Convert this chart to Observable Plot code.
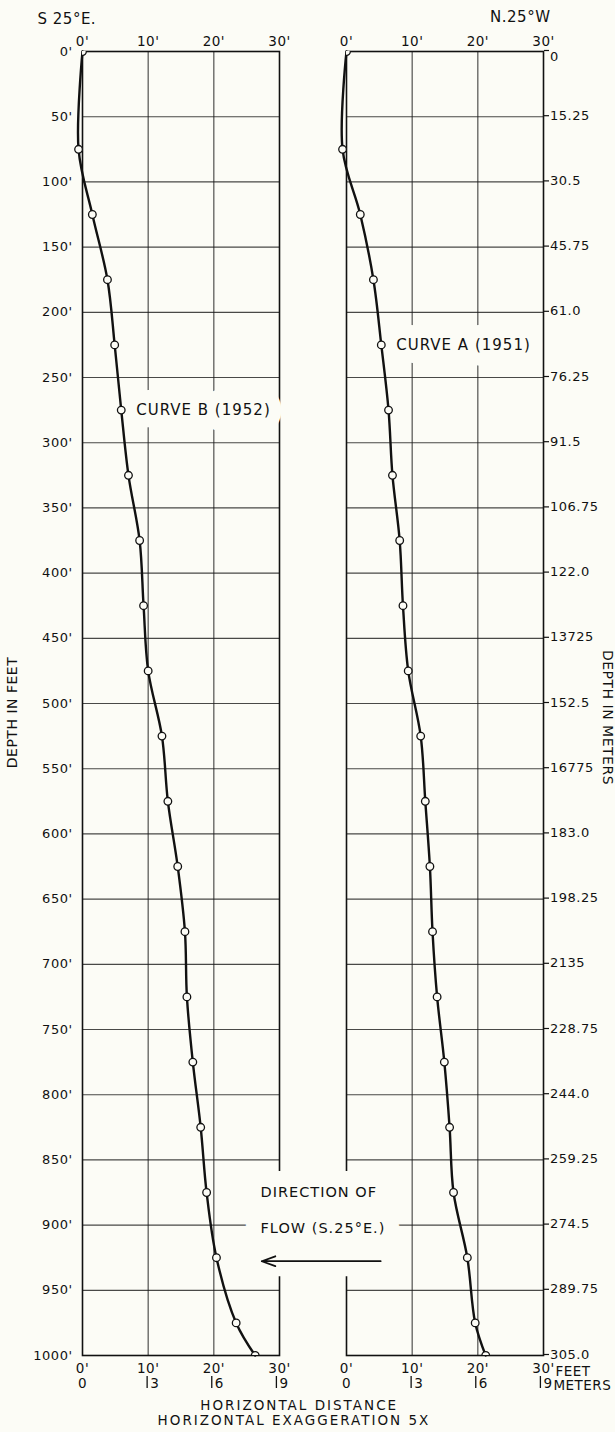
<!DOCTYPE html>
<html>
<head>
<meta charset="utf-8">
<script src="https://cdn.jsdelivr.net/npm/d3@7"></script>
<script src="https://cdn.jsdelivr.net/npm/@observablehq/plot@0.6"></script>
<style>
  html, body { margin: 0; padding: 0; background: #fcfcf6; }
  #chart svg text { letter-spacing: 0.5px; }
</style>
</head>
<body>
<div id="chart"></div>
<script>
// ---------- data ----------
const panels = ["S 25°E.", "N.25°W"];            // left panel (curve B), right panel (curve A)
const depthsFt = [0, 75, 125, 175, 225, 275, 325, 375, 425, 475, 525, 575, 625, 675, 725, 775, 825, 875, 925, 975, 1000];
const curveB1952 = [0, -0.6, 1.5, 3.8, 4.9, 5.9, 7.0, 8.7, 9.3, 10.0, 12.1, 13.0, 14.5, 15.6, 15.9, 16.8, 18.0, 18.9, 20.4, 23.4, 26.3];
const curveA1951 = [0, -0.6, 2.1, 4.1, 5.3, 6.4, 7.0, 8.1, 8.6, 9.4, 11.3, 12.0, 12.7, 13.1, 13.8, 14.9, 15.7, 16.3, 18.4, 19.6, 21.2];

const depthTicksFt = [0, 50, 100, 150, 200, 250, 300, 350, 400, 450, 500, 550, 600, 650, 700, 750, 800, 850, 900, 950, 1000];
const feetTickLabels = ["0'", "50'", "100'", "150'", "200'", "250'", "300'", "350'", "400'", "450'", "500'", "550'", "600'", "650'", "700'", "750'", "800'", "850'", "900'", "950'", "1000'"];
const meterTickLabels = ["0", "15.25", "30.5", "45.75", "61.0", "76.25", "91.5", "106.75", "122.0", "13725", "152.5", "16775", "183.0", "198.25", "2135", "228.75", "244.0", "259.25", "274.5", "289.75", "305.0"];

const horizTicksFt = [0, 10, 20, 30];
const horizTickLabels = ["0'", "10'", "20'", "30'"];
const horizTicksM = [0, 3, 6, 9];
const horizTickLabelsM = ["0", "3", "6", "9"];
const FT_PER_M = 1 / 0.3048;
const horizTicksMft = horizTicksM.map(m => m * FT_PER_M);

const curveNames = ["CURVE B (1952)", "CURVE A (1951)"];
const curveLabelDepths = [275, 225];
const flowText = ["DIRECTION OF", "FLOW (S.25°E.)"];
const flowTextDepths = [875, 902.6];
const flowArrow = {from: 5.2, to: -12.9, depth: 927.7};   // in right-panel feet
const flowTextX = -13.1;
const bottomTitles = ["HORIZONTAL DISTANCE", "HORIZONTAL EXAGGERATION 5X"];

// ---------- tables built from the arrays ----------
const rows = [
  ...depthsFt.map((d, i) => ({panel: panels[0], depth: d, offset: curveB1952[i]})),
  ...depthsFt.map((d, i) => ({panel: panels[1], depth: d, offset: curveA1951[i]}))
];
const isEnd = d => d.depth === depthsFt[0] || d.depth === depthsFt[depthsFt.length - 1];
const curveLabelRows = [
  {panel: panels[0], depth: curveLabelDepths[0], x: curveB1952[depthsFt.indexOf(curveLabelDepths[0])], text: curveNames[0]},
  {panel: panels[1], depth: curveLabelDepths[1], x: curveA1951[depthsFt.indexOf(curveLabelDepths[1])], text: curveNames[1]}
];
const flowTextRows = flowText.map((t, i) => ({panel: panels[1], depth: flowTextDepths[i], x: flowTextX, text: t}));
const flowArrowRows = [{panel: panels[1], ...flowArrow}];

const bg = "#fcfcf6";
const ink = "#111";
const gridStyle = {stroke: "#1c1c1c", strokeOpacity: 0.8, strokeWidth: 1.15};
const meterLabel = d => meterTickLabels[depthTicksFt.indexOf(d)];

const chart = Plot.plot({
  width: 615,
  height: 1432,
  marginTop: 51,
  marginBottom: 77,
  marginLeft: 82,
  marginRight: 72,
  style: {fontFamily: "'DejaVu Sans', sans-serif", fontSize: "13px", background: bg, color: ink, overflow: "visible"},
  fx: {domain: panels, paddingInner: 67 / 264, paddingOuter: 0, round: false, axis: null, label: null},
  x: {domain: [0, 30], axis: null},
  y: {domain: [0, 1000], reverse: true, axis: null},
  marks: [
    Plot.gridY({ticks: depthTicksFt, ...gridStyle}),
    Plot.gridX({ticks: [10, 20], ...gridStyle}),
    Plot.frame({stroke: ink, strokeWidth: 1.6}),

    // axes
    Plot.axisY({anchor: "left", facetAnchor: "left", ticks: depthTicksFt,
      tickFormat: d => feetTickLabels[depthTicksFt.indexOf(d)], tickSize: 0, tickPadding: 10, fontSize: 13, label: null}),
    Plot.axisY({anchor: "right", facetAnchor: "right", ticks: depthTicksFt,
      tickFormat: d => (d === depthTicksFt[0] ? "" : meterLabel(d)), tickSize: 5, tickPadding: 1.5, dy: -1, fontSize: 13, strokeWidth: 1.2, label: null}),
    Plot.axisY({anchor: "right", facetAnchor: "right", ticks: depthTicksFt.slice(0, 1),
      tickFormat: meterLabel, tickSize: 0, tickPadding: 6.5, dy: 5, fontSize: 13, label: null}),
    Plot.axisX({anchor: "top", ticks: horizTicksFt,
      tickFormat: d => horizTickLabels[horizTicksFt.indexOf(d)], tickSize: 0, tickPadding: 6, fontSize: 13.5, label: null}),
    Plot.axisX({anchor: "bottom", ticks: horizTicksFt,
      tickFormat: d => horizTickLabels[horizTicksFt.indexOf(d)], tickSize: 0, tickPadding: 8, fontSize: 13.5, label: null}),
    Plot.axisX({anchor: "bottom", ticks: horizTicksMft.slice(0, 1),
      tickFormat: d => horizTickLabelsM[horizTicksMft.indexOf(d)], tickSize: 0, tickPadding: 23, fontSize: 13.5, label: null}),
    Plot.axisX({anchor: "bottom", ticks: horizTicksMft.slice(1),
      tickFormat: d => horizTickLabelsM[horizTicksMft.indexOf(d)], tickSize: 0, tickPadding: 23, dx: 3, textAnchor: "start", fontSize: 13.5, label: null}),
    Plot.axisX({anchor: "bottom", ticks: horizTicksMft.slice(1),
      tickFormat: () => "", tickSize: 12, dy: 21, strokeWidth: 1.3, label: null}),

    // headings and titles
    Plot.text([panels[0]], {fx: d => d, x: 0, text: d => d, frameAnchor: "top", dx: -45, dy: -32,
      textAnchor: "start", lineAnchor: "middle", fontSize: 15}),
    Plot.text([panels[1]], {fx: d => d, x: 30, text: d => d, frameAnchor: "top", dx: 7, dy: -34,
      textAnchor: "end", lineAnchor: "middle", fontSize: 15}),
    Plot.text(["DEPTH IN FEET"], {fx: () => panels[0], frameAnchor: "left", dx: -70, dy: 9, rotate: -90,
      textAnchor: "middle", lineAnchor: "middle", fontSize: 14}),
    Plot.text(["DEPTH IN METERS"], {fx: () => panels[1], frameAnchor: "right", dx: 64, dy: 14, rotate: 90,
      textAnchor: "middle", lineAnchor: "middle", fontSize: 14}),
    Plot.text(["FEET"], {fx: () => panels[1], x: 30, frameAnchor: "bottom", dx: 12, dy: 16,
      textAnchor: "start", lineAnchor: "middle", fontSize: 13.5}),
    Plot.text(["METERS"], {fx: () => panels[1], x: horizTicksMft[3], frameAnchor: "bottom", dx: 13, dy: 30,
      textAnchor: "start", lineAnchor: "middle", fontSize: 13.5}),
    Plot.text([bottomTitles[0]], {fx: () => panels[0], x: 33, frameAnchor: "bottom", dy: 50,
      textAnchor: "middle", lineAnchor: "middle", fontSize: 13.5}),
    Plot.text([bottomTitles[1]], {fx: () => panels[0], x: 32.2, frameAnchor: "bottom", dy: 65,
      textAnchor: "middle", lineAnchor: "middle", fontSize: 13.5}),

    // annotations with paper-coloured halo
    Plot.text(curveLabelRows, {fx: "panel", x: "x", y: "depth", text: "text", dx: 15,
      textAnchor: "start", lineAnchor: "middle", fontSize: 15, fill: ink, stroke: bg, strokeWidth: 26, paintOrder: "stroke"}),
    Plot.ruleY(flowArrowRows, {fx: "panel", y: "depth", x1: "from", x2: "to", stroke: bg, strokeWidth: 30}),
    Plot.text(flowTextRows, {fx: "panel", x: "x", y: "depth", text: "text",
      textAnchor: "start", lineAnchor: "middle", fontSize: 14.5, fill: ink, stroke: bg, strokeWidth: 32, paintOrder: "stroke"}),
    Plot.arrow(flowArrowRows, {fx: "panel", x1: "from", x2: "to", y1: "depth", y2: "depth",
      stroke: ink, strokeWidth: 1.8, headLength: 12, headAngle: 40}),

    // the curves
    Plot.line(rows, {fx: "panel", x: "offset", y: "depth", z: "panel", curve: "catmull-rom", stroke: ink, strokeWidth: 2.4}),
    Plot.dot(rows.filter(d => !isEnd(d)), {fx: "panel", x: "offset", y: "depth", r: 3.8, fill: bg, stroke: ink, strokeWidth: 1.3}),
    Plot.dot(rows.filter(isEnd), {fx: "panel", x: "offset", y: "depth", r: 3.8, fill: bg, stroke: ink, strokeWidth: 1.3, clip: true})
  ]
});
document.getElementById("chart").appendChild(chart);
d3.select(chart).selectAll("text")
  .filter(function () { return bottomTitles.includes(this.textContent); })
  .style("letter-spacing", "2px");
d3.select(chart).selectAll("text")
  .filter(function () { return flowText.includes(this.textContent) || curveNames.includes(this.textContent); })
  .style("letter-spacing", "1px");
</script>
</body>
</html>
